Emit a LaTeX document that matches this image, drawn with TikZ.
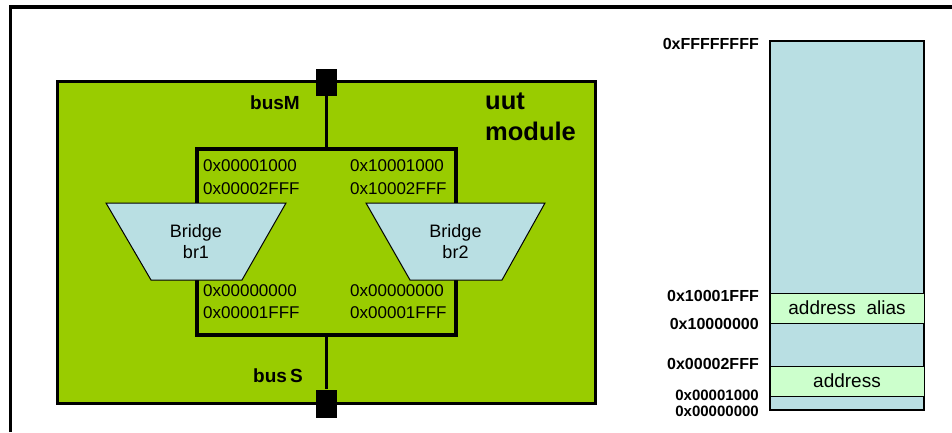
\documentclass[tikz,border=0pt]{standalone}
\usepackage{fontspec}
\setmainfont{Liberation Sans}
\definecolor{uutgreen}{HTML}{99CC00}
\definecolor{mapblue}{HTML}{B9DFE3}
\definecolor{mapgreen}{HTML}{CCFFCC}
\begin{document}
\begin{tikzpicture}[x=1pt,y=-1pt,
  addr/.style={font=\fontsize{17}{17}\selectfont, anchor=west, inner sep=0pt},
  maplbl/.style={font=\fontsize{16}{16}\selectfont\bfseries, anchor=east, inner sep=0pt},
  buslbl/.style={font=\fontsize{19}{19}\selectfont\bfseries, inner sep=0pt},
  busline/.style={line width=3pt},
  port/.style={draw=none, fill=black, inner sep=0pt, minimum width=21pt},
  bridgeshape/.style={draw=black, line width=1pt, fill=mapblue, line join=miter},
  bridgetext/.style={align=center, inner sep=0pt, font=\fontsize{18}{21}\selectfont},
  band/.style={draw=black, line width=1pt, fill=mapgreen, minimum width=154pt,
    minimum height=30pt, inner sep=0pt, font=\fontsize{19}{19}\selectfont}
]
\useasboundingbox (0,0) rectangle (952,432);
% outer frame
\draw[line width=3.5pt] (10.5,432) -- (10.5,7) -- (952,7);
% uut module
\node[draw=black, fill=uutgreen, line width=3pt, minimum width=538pt, minimum height=322pt, inner sep=0pt] (uut) at (326,242) {};
\node[anchor=west, align=left, inner sep=0pt, font=\fontsize{25.5}{31}\selectfont\bfseries] (uutlbl) at (485,117) {uut\\module};
% bus frame
\node[draw=black, line width=4pt, minimum width=259pt, minimum height=186pt, inner sep=0pt] (bus) at (326.5,242) {};
% ports
\node[port, minimum height=27pt] (sqM) at (326.5,82.5) {};
\node[port, minimum height=28pt] (sqS) at (326.5,403.5) {};
\draw[busline] (sqM.south) -- (bus.north);
\draw[busline] (bus.south) -- (sqS.north);
\node[buslbl] (busM) at (275,103) {busM};
\node[buslbl] (busS) at (278,376) {bus\,S};
% bridges
\draw[bridgeshape] (106,203) -- (286,203) -- (242,280) -- (151,280) -- cycle;
\node[bridgetext] (br1) at (196,241.5) {Bridge\\br1};
\draw[bridgeshape] (366,203) -- (545,203) -- (502,280) -- (410,280) -- cycle;
\node[bridgetext] (br2) at (455.5,241.5) {Bridge\\br2};
% addresses
\node[addr] (a1) at (203,166) {0x00001000};
\node[addr] (a2) at (203,188.5) {0x00002FFF};
\node[addr] (a3) at (350,166) {0x10001000};
\node[addr] (a4) at (350,188.5) {0x10002FFF};
\node[addr] (a5) at (203,291) {0x00000000};
\node[addr] (a6) at (203,312.5) {0x00001FFF};
\node[addr] (a7) at (350,291) {0x00000000};
\node[addr] (a8) at (350,312.5) {0x00001FFF};
% memory map
\node[draw=black, line width=1.5pt, fill=mapblue, minimum width=154pt, minimum height=369pt, inner sep=0pt] (map) at (847,225.5) {};
\node[band] (alias) at (847,308) {address\ \ alias};
\node[band] (addrband) at (847,381) {address};
\node[maplbl] (l1) at (759,44) {0xFFFFFFFF};
\node[maplbl] (l2) at (759,296) {0x10001FFF};
\node[maplbl] (l3) at (759,324) {0x10000000};
\node[maplbl] (l4) at (759,364) {0x00002FFF};
\node[maplbl, font=\fontsize{15}{15}\selectfont\bfseries] (l5) at (759,395) {0x00001000};
\node[maplbl, font=\fontsize{15}{15}\selectfont\bfseries] (l6) at (759,411) {0x00000000};
\end{tikzpicture}
\end{document}
